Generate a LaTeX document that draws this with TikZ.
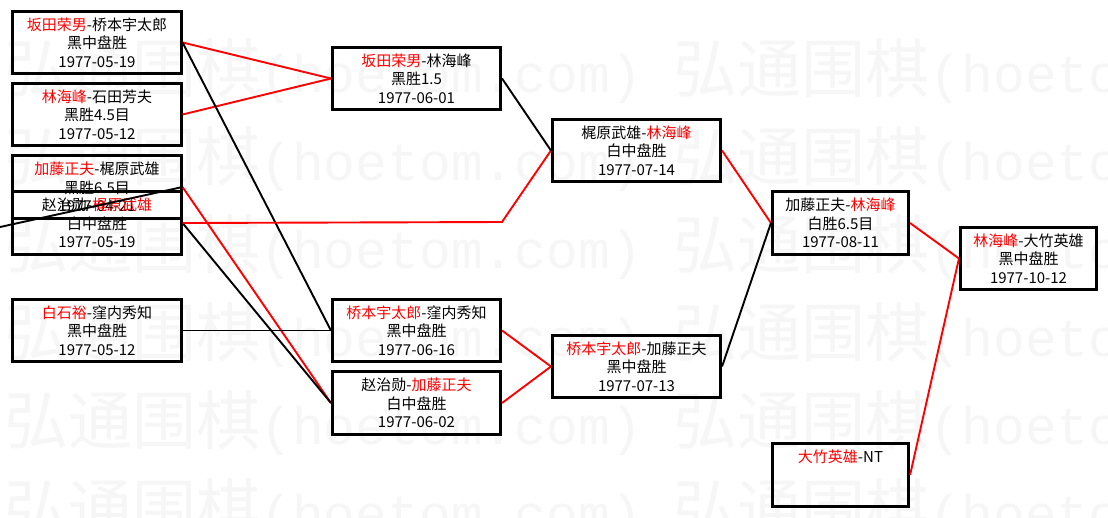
\documentclass[tikz,border=0pt]{standalone}
\usepackage{fontspec}
\setmainfont{Noto Sans CJK SC}
\newfontfamily\wmm{Liberation Mono}
\newcommand{\rn}[1]{\textcolor{red}{#1}}
\newcommand{\wmrow}{{\fontsize{64}{70}\selectfont 弘通围棋}{\wmm\fontsize{53}{60}\selectfont (hoetom.com) }{\fontsize{64}{70}\selectfont 弘通围棋}{\wmm\fontsize{53}{60}\selectfont (hoetom.com)}}
\tikzset{
  gbox/.style={draw=black, line width=2.6pt, minimum width=168.5pt, minimum height=62.5pt,
    inner sep=0pt, align=center, font=\fontsize{15}{18.5}\selectfont},
  gboxn/.style={gbox, minimum width=136.5pt},
  rl/.style={draw=red, line width=1.9pt},
  bl/.style={draw=black, line width=1.9pt},
  wm/.style={anchor=base west, inner sep=0pt, text=black!3.5}
}
\begin{document}
\begin{tikzpicture}[x=1pt,y=-1pt]
\useasboundingbox (0,0) rectangle (1108,517);
\fill[white] (0,0) rectangle (1108,517);
% watermark
\foreach \yy [count=\i] in {92,180,268,356,444,532} {
  \node[wm] (wm\i) at (4,\yy) {\wmrow};
}
% round 1
\node[gbox] (L1) at (97,42.5) {\rn{坂田荣男}-桥本宇太郎\\黑中盘胜\\1977-05-19};
\node[gbox] (L2) at (97,114.5) {\rn{林海峰}-石田芳夫\\黑胜4.5目\\1977-05-12};
\node[gbox] (L3) at (97,187) {\rn{加藤正夫}-梶原武雄\\黑胜6.5目\\1977-04-21};
\node[gbox] (L4) at (97,223) {赵治勋-\rn{梶原武雄}\\白中盘胜\\1977-05-19};
\node[gbox] (L5) at (97,330.5) {\rn{白石裕}-窪内秀知\\黑中盘胜\\1977-05-12};
% round 2
\node[gbox] (A) at (416.5,78.5) {\rn{坂田荣男}-林海峰\\黑胜1.5\\1977-06-01};
\node[gbox] (D) at (416.5,330.5) {\rn{桥本宇太郎}-窪内秀知\\黑中盘胜\\1977-06-16};
\node[gbox] (E) at (416.5,403) {赵治勋-\rn{加藤正夫}\\白中盘胜\\1977-06-02};
% round 3
\node[gbox] (B) at (636.5,150.5) {梶原武雄-\rn{林海峰}\\白中盘胜\\1977-07-14};
\node[gbox] (C) at (636.5,366.5) {\rn{桥本宇太郎}-加藤正夫\\黑中盘胜\\1977-07-13};
% round 4
\node[gboxn] (F) at (840.5,223) {加藤正夫-\rn{林海峰}\\白胜6.5目\\1977-08-11};
\node[gboxn] (H) at (840.5,475) {\rn{大竹英雄}-NT\\\mbox{}\\\mbox{}};
% final
\node[gboxn] (G) at (1028.5,258.5) {\rn{林海峰}-大竹英雄\\黑中盘胜\\1977-10-12};
% connectors
\coordinate (k) at (502,222);
\coordinate (offl) at (-20,231.4);
\draw[rl] (L1.east) -- (A.west);
\draw[rl] (L2.east) -- (A.west);
\draw[bl] (L1.east) -- (D.west);
\draw[rl] (L3.east) -- (E.west);
\draw[bl] (L4.east) -- (E.west);
\draw[rl] (L4.east) -- (k) -- (B.west);
\draw[bl] (L3.east) -- (offl);
\draw[bl] (L5.east) -- (D.west);
\draw[bl] (A.east) -- (B.west);
\draw[rl] (D.east) -- (C.west);
\draw[rl] (E.east) -- (C.west);
\draw[rl] (B.east) -- (F.west);
\draw[bl] (C.east) -- (F.west);
\draw[rl] (F.east) -- (G.west);
\draw[rl] (H.east) -- (G.west);
\end{tikzpicture}
\end{document}
